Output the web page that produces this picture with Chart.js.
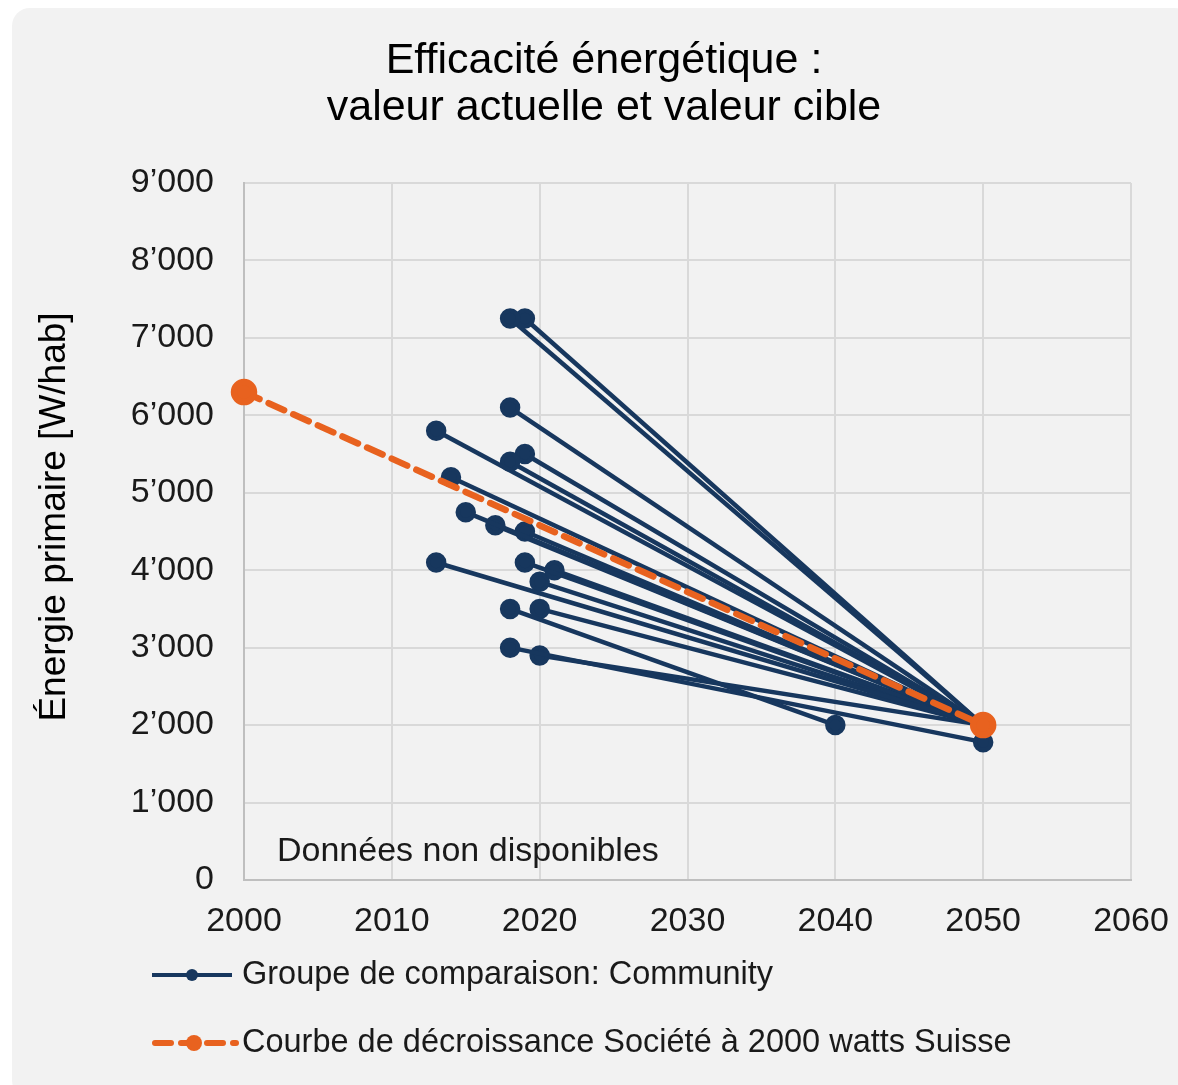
<!DOCTYPE html>
<html>
<head>
<meta charset="utf-8">
<script src="https://cdn.jsdelivr.net/npm/chart.js@4/dist/chart.umd.min.js"></script>
<style>
  html, body { margin: 0; padding: 0; background: #ffffff; overflow: hidden; }
  #panel {
    position: absolute; left: 12px; top: 8px; width: 1180px; height: 1090px;
    background: #f2f2f2; border-radius: 18px;
  }
  #wrap { position: absolute; left: 0; top: 0; width: 1178px; height: 1085px; }
</style>
</head>
<body>
<div id="panel"></div>
<div id="wrap"><canvas id="effChart"></canvas></div>
<script>
// Communities: current value (start) and target value
const startYears   = [2018, 2019, 2018, 2013, 2018, 2019, 2014, 2015, 2017, 2019, 2013, 2019, 2021, 2020, 2018, 2020, 2018, 2020];
const startValues  = [7250, 7250, 6100, 5800, 5400, 5500, 5200, 4750, 4580, 4500, 4100, 4100, 4000, 3850, 3500, 3500, 3000, 2900];
const targetYears  = [2050, 2050, 2050, 2050, 2050, 2050, 2050, 2050, 2050, 2050, 2050, 2050, 2050, 2050, 2040, 2050, 2050, 2050];
const targetValues = [2000, 2000, 2000, 2000, 2000, 2000, 2000, 2000, 2000, 2000, 2000, 2000, 2000, 2000, 2000, 2000, 1780, 2000];

// Swiss 2000-watt society decline curve
const curveYears  = [2000, 2050];
const curveValues = [6300, 2000];

const xTicks = [2000, 2010, 2020, 2030, 2040, 2050, 2060];
const yTicks = [0, 1000, 2000, 3000, 4000, 5000, 6000, 7000, 8000, 9000];

const NAVY = '#17375e';
const ORANGE = '#e8621f';
const FONT = "'Liberation Sans', Arial, sans-serif";

const titleLines = ['Efficacité énergétique :', 'valeur actuelle et valeur cible'];
const yTitle = 'Énergie primaire [W/hab]';
const groupLabel = 'Groupe de comparaison: Community';
const curveLabel = 'Courbe de décroissance Société à 2000 watts Suisse';
const noDataText = 'Données non disponibles';

const datasets = startYears.map((y, i) => ({
    label: groupLabel,
    data: [{ x: y, y: startValues[i] }, { x: targetYears[i], y: targetValues[i] }],
    borderColor: NAVY,
    backgroundColor: NAVY,
    borderWidth: 4.5,
    pointRadius: 8,
    pointHoverRadius: 8,
    order: 1,
    clip: false
}));

datasets.push({
    label: curveLabel,
    data: curveYears.map((y, i) => ({ x: y, y: curveValues[i] })),
    borderColor: ORANGE,
    backgroundColor: ORANGE,
    borderWidth: 6.5,
    borderDash: [17, 10],
    borderCapStyle: 'round',
    pointRadius: 10,
    pointHoverRadius: 10,
    order: 0,
    clip: false
});

function fmtThousands(v) {
    if (v === 0) return '0';
    const s = String(v);
    return s.slice(0, s.length - 3) + '\u2019' + s.slice(-3);
}

// titles, no-data note and legend drawn by hand (line + marker + text)
const extrasPlugin = {
    id: 'extras',
    afterDraw(chart) {
        const ctx = chart.ctx;
        ctx.save();
        ctx.textBaseline = 'middle';

        ctx.font = '43px ' + FONT;
        ctx.fillStyle = '#000000';
        ctx.textAlign = 'center';
        ctx.fillText(titleLines[0], 604, 61);
        ctx.fillText(titleLines[1], 604, 108);

        ctx.save();
        ctx.translate(55, 517);
        ctx.rotate(-Math.PI / 2);
        ctx.font = '37px ' + FONT;
        ctx.fillText(yTitle, 0, 0);
        ctx.restore();

        ctx.textAlign = 'left';
        ctx.font = '34px ' + FONT;
        ctx.fillStyle = '#1a1a1a';
        ctx.fillText(noDataText, 277, 852);

        // legend row 1
        ctx.strokeStyle = NAVY;
        ctx.lineWidth = 4;
        ctx.beginPath();
        ctx.moveTo(152, 975); ctx.lineTo(232, 975);
        ctx.stroke();
        ctx.fillStyle = NAVY;
        ctx.beginPath(); ctx.arc(192, 975, 6, 0, Math.PI * 2); ctx.fill();

        // legend row 2
        ctx.strokeStyle = ORANGE;
        ctx.lineWidth = 6;
        ctx.lineCap = 'round';
        ctx.setLineDash([16, 10]);
        ctx.beginPath();
        ctx.moveTo(155, 1043); ctx.lineTo(236, 1043);
        ctx.stroke();
        ctx.setLineDash([]);
        ctx.fillStyle = ORANGE;
        ctx.beginPath(); ctx.arc(194, 1043, 8, 0, Math.PI * 2); ctx.fill();

        ctx.font = '32.5px ' + FONT;
        ctx.fillStyle = '#1a1a1a';
        ctx.fillText(groupLabel, 242, 975);
        ctx.fillText(curveLabel, 242, 1043);
        ctx.restore();
    }
};

new Chart(document.getElementById('effChart'), {
    type: 'line',
    data: { datasets: datasets },
    plugins: [extrasPlugin],
    options: {
        responsive: true,
        maintainAspectRatio: false,
        animation: false,
        events: [],
        layout: { padding: { left: 0, right: 47, top: 183, bottom: 135 } },
        plugins: {
            legend: { display: false },
            tooltip: { enabled: false },
            title: { display: false }
        },
        scales: {
            x: {
                type: 'linear',
                min: 2000,
                max: 2060,
                afterBuildTicks(scale) { scale.ticks = xTicks.map(v => ({ value: v })); },
                afterFit(scale) {
                    scale.height = 70;
                    scale.paddingLeft = 0;
                    scale.paddingRight = 0;
                },
                ticks: {
                    color: '#1a1a1a',
                    font: { family: FONT, size: 34 },
                    padding: 21,
                    maxRotation: 0,
                    callback: v => String(v)
                },
                grid: { color: '#d9d9d9', lineWidth: 2, drawTicks: false },
                border: { color: '#bfbfbf', width: 2 }
            },
            y: {
                type: 'linear',
                min: 0,
                max: 9000,
                afterBuildTicks(scale) { scale.ticks = yTicks.map(v => ({ value: v })); },
                afterFit(scale) { scale.width = 244; },
                ticks: {
                    color: '#1a1a1a',
                    font: { family: FONT, size: 34 },
                    padding: 30,
                    callback: v => fmtThousands(v)
                },
                grid: { color: '#d9d9d9', lineWidth: 2, drawTicks: false },
                border: { color: '#bfbfbf', width: 2 }
            }
        }
    }
});
</script>
</body>
</html>
